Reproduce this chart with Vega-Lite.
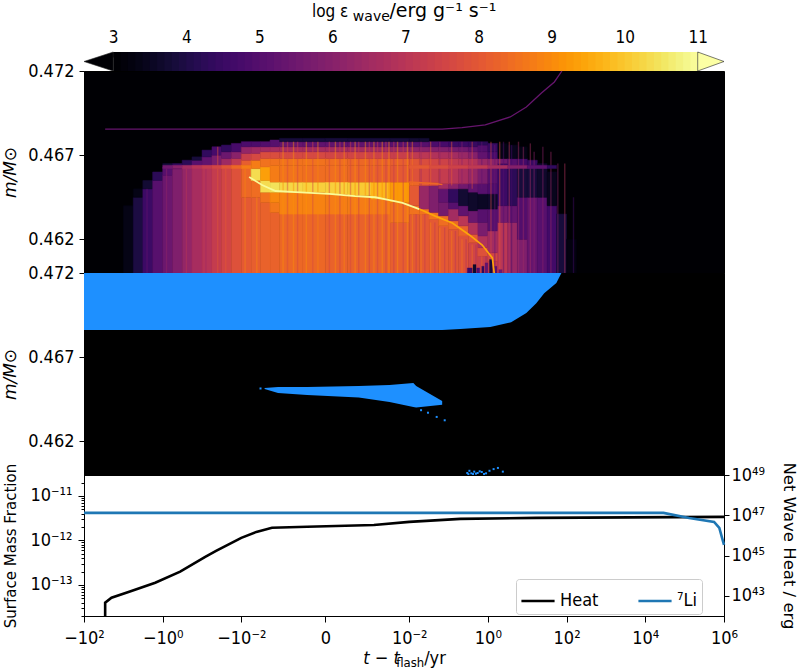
{"$schema":"https://vega.github.io/schema/vega-lite/v6.json","background":"white","padding":{"left":0,"top":2,"right":0,"bottom":0},"spacing":0,"bounds":"flush",
"config":{"view":{"stroke":"black","strokeWidth":1},"axis":{"labelFont":"DejaVu Sans Condensed","titleFont":"DejaVu Sans","labelFontSize":18,"titleFontSize":15,"titleFontWeight":"normal","grid":false,"tickColor":"black","domainColor":"black","labelColor":"black","titleColor":"black","labelOverlap":false,"labelFlush":false},"text":{"font":"DejaVu Sans Condensed","fontSize":18,"align":"left","baseline":"alphabetic"}},
"datasets":{
"cb":[{"v":3,"w":3.12},{"v":3.1,"w":3.22},{"v":3.2,"w":3.32},{"v":3.3,"w":3.42},{"v":3.4,"w":3.52},{"v":3.5,"w":3.62},{"v":3.6,"w":3.72},{"v":3.7,"w":3.82},{"v":3.8,"w":3.92},{"v":3.9,"w":4.02},{"v":4,"w":4.12},{"v":4.1,"w":4.22},{"v":4.2,"w":4.32},{"v":4.3,"w":4.42},{"v":4.4,"w":4.52},{"v":4.5,"w":4.62},{"v":4.6,"w":4.72},{"v":4.7,"w":4.82},{"v":4.8,"w":4.92},{"v":4.9,"w":5.02},{"v":5,"w":5.12},{"v":5.1,"w":5.22},{"v":5.2,"w":5.32},{"v":5.3,"w":5.42},{"v":5.4,"w":5.52},{"v":5.5,"w":5.62},{"v":5.6,"w":5.72},{"v":5.7,"w":5.82},{"v":5.8,"w":5.92},{"v":5.9,"w":6.02},{"v":6,"w":6.12},{"v":6.1,"w":6.22},{"v":6.2,"w":6.32},{"v":6.3,"w":6.42},{"v":6.4,"w":6.52},{"v":6.5,"w":6.62},{"v":6.6,"w":6.72},{"v":6.7,"w":6.82},{"v":6.8,"w":6.92},{"v":6.9,"w":7.02},{"v":7,"w":7.12},{"v":7.1,"w":7.22},{"v":7.2,"w":7.32},{"v":7.3,"w":7.42},{"v":7.4,"w":7.52},{"v":7.5,"w":7.62},{"v":7.6,"w":7.72},{"v":7.7,"w":7.82},{"v":7.8,"w":7.92},{"v":7.9,"w":8.02},{"v":8,"w":8.12},{"v":8.1,"w":8.22},{"v":8.2,"w":8.32},{"v":8.3,"w":8.42},{"v":8.4,"w":8.52},{"v":8.5,"w":8.62},{"v":8.6,"w":8.72},{"v":8.7,"w":8.82},{"v":8.8,"w":8.92},{"v":8.9,"w":9.02},{"v":9,"w":9.12},{"v":9.1,"w":9.22},{"v":9.2,"w":9.32},{"v":9.3,"w":9.42},{"v":9.4,"w":9.52},{"v":9.5,"w":9.62},{"v":9.6,"w":9.72},{"v":9.7,"w":9.82},{"v":9.8,"w":9.92},{"v":9.9,"w":10.02},{"v":10,"w":10.12},{"v":10.1,"w":10.22},{"v":10.2,"w":10.32},{"v":10.3,"w":10.42},{"v":10.4,"w":10.52},{"v":10.5,"w":10.62},{"v":10.6,"w":10.72},{"v":10.7,"w":10.82},{"v":10.8,"w":10.92},{"v":10.9,"w":11}],
"cells":[
{"a":-10,"b":-5.6,"m":0.46,"n":0.464,"e":3.3},
{"a":-5.6,"b":-3.2,"m":0.46,"n":0.4645,"e":3.9},{"a":-5.6,"b":-3.2,"m":0.4645,"n":0.465,"e":3.3},
{"a":-3.2,"b":-1.8,"m":0.46,"n":0.465,"e":4.5},{"a":-3.2,"b":-1.8,"m":0.465,"n":0.4655,"e":3.7},
{"a":-1.8,"b":-1,"m":0.46,"n":0.4655,"e":5},{"a":-1.8,"b":-1,"m":0.4655,"n":0.466,"e":4.2},
{"a":-1,"b":-0.56,"m":0.46,"n":0.4658,"e":5.4},{"a":-1,"b":-0.56,"m":0.4658,"n":0.4663,"e":5},{"a":-1,"b":-0.56,"m":0.4663,"n":0.4665,"e":3.8},
{"a":-0.56,"b":-0.32,"m":0.46,"n":0.4662,"e":5.8},{"a":-0.56,"b":-0.32,"m":0.4662,"n":0.4665,"e":4.3},
{"a":-0.32,"b":-0.18,"m":0.46,"n":0.4663,"e":6.2},{"a":-0.32,"b":-0.18,"m":0.4663,"n":0.4667,"e":4.2},
{"a":-0.18,"b":-0.1,"m":0.46,"n":0.4664,"e":6.6},{"a":-0.18,"b":-0.1,"m":0.4664,"n":0.4667,"e":5},{"a":-0.18,"b":-0.1,"m":0.4667,"n":0.4669,"e":3.8},
{"a":-0.1,"b":-0.056,"m":0.46,"n":0.4664,"e":6.9},{"a":-0.1,"b":-0.056,"m":0.4664,"n":0.4669,"e":5.2},{"a":-0.1,"b":-0.056,"m":0.4669,"n":0.4673,"e":4.3},
{"a":-0.056,"b":-0.032,"m":0.46,"n":0.4664,"e":7.2},{"a":-0.056,"b":-0.032,"m":0.4664,"n":0.467,"e":5.7},{"a":-0.056,"b":-0.032,"m":0.467,"n":0.4675,"e":4.7},
{"a":-0.032,"b":-0.018,"m":0.46,"n":0.4664,"e":7.5},{"a":-0.032,"b":-0.018,"m":0.4664,"n":0.4668,"e":6.4},{"a":-0.032,"b":-0.018,"m":0.4668,"n":0.4672,"e":5.4},{"a":-0.032,"b":-0.018,"m":0.4672,"n":0.4676,"e":4.3},
{"a":-0.018,"b":-0.01,"m":0.46,"n":0.4664,"e":7.8},{"a":-0.018,"b":-0.01,"m":0.4664,"n":0.4668,"e":7.1},{"a":-0.018,"b":-0.01,"m":0.4668,"n":0.4672,"e":6},{"a":-0.018,"b":-0.01,"m":0.4672,"n":0.4677,"e":4.7},
{"a":-0.01,"b":-0.0056,"m":0.46,"n":0.4645,"e":8},{"a":-0.01,"b":-0.0056,"m":0.4645,"n":0.4664,"e":8.3},{"a":-0.01,"b":-0.0056,"m":0.4664,"n":0.4667,"e":8.1},{"a":-0.01,"b":-0.0056,"m":0.4667,"n":0.4671,"e":7.3},{"a":-0.01,"b":-0.0056,"m":0.4671,"n":0.4675,"e":6.2},{"a":-0.01,"b":-0.0056,"m":0.4675,"n":0.4678,"e":4.8},
{"a":-0.0056,"b":-0.0032,"m":0.46,"n":0.4645,"e":8.1},{"a":-0.0056,"b":-0.0032,"m":0.4645,"n":0.4655,"e":8.4},{"a":-0.0056,"b":-0.0032,"m":0.4655,"n":0.4662,"e":10.3},{"a":-0.0056,"b":-0.0032,"m":0.4662,"n":0.4667,"e":8.7},{"a":-0.0056,"b":-0.0032,"m":0.4667,"n":0.4671,"e":7.6},{"a":-0.0056,"b":-0.0032,"m":0.4671,"n":0.4675,"e":6.4},{"a":-0.0056,"b":-0.0032,"m":0.4675,"n":0.4678,"e":4.8},
{"a":-0.0032,"b":-0.0018,"m":0.46,"n":0.4642,"e":8.2},{"a":-0.0032,"b":-0.0018,"m":0.4642,"n":0.4648,"e":8.5},{"a":-0.0032,"b":-0.0018,"m":0.4648,"n":0.4655,"e":10.3},{"a":-0.0032,"b":-0.0018,"m":0.4655,"n":0.4663,"e":9.3},{"a":-0.0032,"b":-0.0018,"m":0.4663,"n":0.4668,"e":8.5},{"a":-0.0032,"b":-0.0018,"m":0.4668,"n":0.4672,"e":7.7},{"a":-0.0032,"b":-0.0018,"m":0.4672,"n":0.4675,"e":6.5},{"a":-0.0032,"b":-0.0018,"m":0.4675,"n":0.4678,"e":4.9},
{"a":-0.0018,"b":-0.001,"m":0.46,"n":0.4636,"e":8.2},{"a":-0.0018,"b":-0.001,"m":0.4636,"n":0.4642,"e":8.6},{"a":-0.0018,"b":-0.001,"m":0.4642,"n":0.4648,"e":8.9},{"a":-0.0018,"b":-0.001,"m":0.4648,"n":0.4654,"e":10.4},{"a":-0.0018,"b":-0.001,"m":0.4654,"n":0.4664,"e":8.7},{"a":-0.0018,"b":-0.001,"m":0.4664,"n":0.4668,"e":8.5},{"a":-0.0018,"b":-0.001,"m":0.4668,"n":0.4672,"e":7.7},{"a":-0.0018,"b":-0.001,"m":0.4672,"n":0.4675,"e":6.6},{"a":-0.0018,"b":-0.001,"m":0.4675,"n":0.4679,"e":5},
{"a":-0.001,"b":-0.0002,"m":0.46,"n":0.4635,"e":8.3},{"a":-0.001,"b":-0.0002,"m":0.4635,"n":0.4648,"e":8.8},{"a":-0.001,"b":-0.0002,"m":0.4648,"n":0.4654,"e":10.2},{"a":-0.001,"b":-0.0002,"m":0.4654,"n":0.4664,"e":8.5},{"a":-0.001,"b":-0.0002,"m":0.4664,"n":0.4668,"e":8.5},{"a":-0.001,"b":-0.0002,"m":0.4668,"n":0.4672,"e":7.6},{"a":-0.001,"b":-0.0002,"m":0.4672,"n":0.4675,"e":6.6},{"a":-0.001,"b":-0.0002,"m":0.4675,"n":0.4678,"e":5.3},{"a":-0.001,"b":-0.0002,"m":0.4678,"n":0.468,"e":3.8},
{"a":-0.0002,"b":0,"m":0.46,"n":0.4635,"e":8.3},{"a":-0.0002,"b":0,"m":0.4635,"n":0.4648,"e":8.8},{"a":-0.0002,"b":0,"m":0.4648,"n":0.4654,"e":10.1},{"a":-0.0002,"b":0,"m":0.4654,"n":0.4664,"e":8.4},{"a":-0.0002,"b":0,"m":0.4664,"n":0.4668,"e":8.5},{"a":-0.0002,"b":0,"m":0.4668,"n":0.4672,"e":7.6},{"a":-0.0002,"b":0,"m":0.4672,"n":0.4675,"e":6.5},{"a":-0.0002,"b":0,"m":0.4675,"n":0.4678,"e":5.2},{"a":-0.0002,"b":0,"m":0.4678,"n":0.468,"e":3.8},
{"a":0,"b":0.0002,"m":0.46,"n":0.4635,"e":8.2},{"a":0,"b":0.0002,"m":0.4635,"n":0.4647,"e":8.7},{"a":0,"b":0.0002,"m":0.4647,"n":0.4654,"e":10.1},{"a":0,"b":0.0002,"m":0.4654,"n":0.4664,"e":8.4},{"a":0,"b":0.0002,"m":0.4664,"n":0.4668,"e":8.4},{"a":0,"b":0.0002,"m":0.4668,"n":0.4672,"e":7.5},{"a":0,"b":0.0002,"m":0.4672,"n":0.4675,"e":6.5},{"a":0,"b":0.0002,"m":0.4675,"n":0.4678,"e":5.2},{"a":0,"b":0.0002,"m":0.4678,"n":0.468,"e":3.8},
{"a":0.0002,"b":0.001,"m":0.46,"n":0.4635,"e":8.2},{"a":0.0002,"b":0.001,"m":0.4635,"n":0.4646,"e":8.7},{"a":0.0002,"b":0.001,"m":0.4646,"n":0.4654,"e":10},{"a":0.0002,"b":0.001,"m":0.4654,"n":0.4664,"e":8.3},{"a":0.0002,"b":0.001,"m":0.4664,"n":0.4668,"e":8.3},{"a":0.0002,"b":0.001,"m":0.4668,"n":0.4672,"e":7.5},{"a":0.0002,"b":0.001,"m":0.4672,"n":0.4675,"e":6.5},{"a":0.0002,"b":0.001,"m":0.4675,"n":0.4678,"e":5.2},{"a":0.0002,"b":0.001,"m":0.4678,"n":0.468,"e":3.8},
{"a":0.001,"b":0.0032,"m":0.46,"n":0.4635,"e":8.2},{"a":0.001,"b":0.0032,"m":0.4635,"n":0.4644,"e":8.6},{"a":0.001,"b":0.0032,"m":0.4644,"n":0.4654,"e":9.7},{"a":0.001,"b":0.0032,"m":0.4654,"n":0.4664,"e":8.1},{"a":0.001,"b":0.0032,"m":0.4664,"n":0.4668,"e":8.2},{"a":0.001,"b":0.0032,"m":0.4668,"n":0.4672,"e":7.4},{"a":0.001,"b":0.0032,"m":0.4672,"n":0.4675,"e":6.4},{"a":0.001,"b":0.0032,"m":0.4675,"n":0.4678,"e":5.2},{"a":0.001,"b":0.0032,"m":0.4678,"n":0.468,"e":3.8},
{"a":0.0032,"b":0.01,"m":0.46,"n":0.463,"e":8.1},{"a":0.0032,"b":0.01,"m":0.463,"n":0.4642,"e":8.5},{"a":0.0032,"b":0.01,"m":0.4642,"n":0.4654,"e":9.2},{"a":0.0032,"b":0.01,"m":0.4654,"n":0.4664,"e":8},{"a":0.0032,"b":0.01,"m":0.4664,"n":0.4668,"e":8.1},{"a":0.0032,"b":0.01,"m":0.4668,"n":0.4672,"e":7.3},{"a":0.0032,"b":0.01,"m":0.4672,"n":0.4675,"e":6.3},{"a":0.0032,"b":0.01,"m":0.4675,"n":0.4678,"e":5.1},{"a":0.0032,"b":0.01,"m":0.4678,"n":0.468,"e":3.8},
{"a":0.01,"b":0.018,"m":0.46,"n":0.4635,"e":8},{"a":0.01,"b":0.018,"m":0.4635,"n":0.464,"e":8.5},{"a":0.01,"b":0.018,"m":0.464,"n":0.4652,"e":8},{"a":0.01,"b":0.018,"m":0.4652,"n":0.4654,"e":8.3},{"a":0.01,"b":0.018,"m":0.4654,"n":0.4664,"e":7.8},{"a":0.01,"b":0.018,"m":0.4664,"n":0.4668,"e":7.9},{"a":0.01,"b":0.018,"m":0.4668,"n":0.4672,"e":7.1},{"a":0.01,"b":0.018,"m":0.4672,"n":0.4675,"e":6.1},{"a":0.01,"b":0.018,"m":0.4675,"n":0.4678,"e":5},{"a":0.01,"b":0.018,"m":0.4678,"n":0.468,"e":3.7},
{"a":0.018,"b":0.032,"m":0.46,"n":0.4635,"e":8},{"a":0.018,"b":0.032,"m":0.4635,"n":0.4638,"e":8.5},{"a":0.018,"b":0.032,"m":0.4638,"n":0.4652,"e":6.3},{"a":0.018,"b":0.032,"m":0.4652,"n":0.4654,"e":8},{"a":0.018,"b":0.032,"m":0.4654,"n":0.4664,"e":7.6},{"a":0.018,"b":0.032,"m":0.4664,"n":0.4668,"e":7.7},{"a":0.018,"b":0.032,"m":0.4668,"n":0.4672,"e":7},{"a":0.018,"b":0.032,"m":0.4672,"n":0.4675,"e":6},{"a":0.018,"b":0.032,"m":0.4675,"n":0.4678,"e":5},{"a":0.018,"b":0.032,"m":0.4678,"n":0.468,"e":3.7},
{"a":0.032,"b":0.056,"m":0.46,"n":0.4632,"e":8},{"a":0.032,"b":0.056,"m":0.4632,"n":0.4636,"e":8.5},{"a":0.032,"b":0.056,"m":0.4636,"n":0.4652,"e":5.8},{"a":0.032,"b":0.056,"m":0.4652,"n":0.4654,"e":7.8},{"a":0.032,"b":0.056,"m":0.4654,"n":0.4664,"e":7.3},{"a":0.032,"b":0.056,"m":0.4664,"n":0.4668,"e":7.5},{"a":0.032,"b":0.056,"m":0.4668,"n":0.4672,"e":6.8},{"a":0.032,"b":0.056,"m":0.4672,"n":0.4675,"e":5.9},{"a":0.032,"b":0.056,"m":0.4675,"n":0.4678,"e":4.8},
{"a":0.056,"b":0.1,"m":0.46,"n":0.4628,"e":8},{"a":0.056,"b":0.1,"m":0.4628,"n":0.4634,"e":8.4},{"a":0.056,"b":0.1,"m":0.4634,"n":0.4642,"e":5.6},{"a":0.056,"b":0.1,"m":0.4642,"n":0.465,"e":5.2},{"a":0.056,"b":0.1,"m":0.465,"n":0.4653,"e":6.5},{"a":0.056,"b":0.1,"m":0.4653,"n":0.4664,"e":7.2},{"a":0.056,"b":0.1,"m":0.4664,"n":0.4668,"e":7.4},{"a":0.056,"b":0.1,"m":0.4668,"n":0.4672,"e":6.7},{"a":0.056,"b":0.1,"m":0.4672,"n":0.4675,"e":5.8},{"a":0.056,"b":0.1,"m":0.4675,"n":0.4678,"e":4.7},
{"a":0.1,"b":0.18,"m":0.46,"n":0.4626,"e":7.9},{"a":0.1,"b":0.18,"m":0.4626,"n":0.4631,"e":8.3},{"a":0.1,"b":0.18,"m":0.4631,"n":0.4638,"e":6.5},{"a":0.1,"b":0.18,"m":0.4638,"n":0.4642,"e":5},{"a":0.1,"b":0.18,"m":0.4642,"n":0.465,"e":4.3},{"a":0.1,"b":0.18,"m":0.465,"n":0.4653,"e":6},{"a":0.1,"b":0.18,"m":0.4653,"n":0.4664,"e":6.9},{"a":0.1,"b":0.18,"m":0.4664,"n":0.4668,"e":7.1},{"a":0.1,"b":0.18,"m":0.4668,"n":0.4672,"e":6.5},{"a":0.1,"b":0.18,"m":0.4672,"n":0.4675,"e":5.6},{"a":0.1,"b":0.18,"m":0.4675,"n":0.4678,"e":4.5},
{"a":0.18,"b":0.32,"m":0.46,"n":0.4622,"e":7.8},{"a":0.18,"b":0.32,"m":0.4622,"n":0.4628,"e":8.2},{"a":0.18,"b":0.32,"m":0.4628,"n":0.4634,"e":7},{"a":0.18,"b":0.32,"m":0.4634,"n":0.464,"e":5.2},{"a":0.18,"b":0.32,"m":0.464,"n":0.465,"e":3.7},{"a":0.18,"b":0.32,"m":0.465,"n":0.4653,"e":5.5},{"a":0.18,"b":0.32,"m":0.4653,"n":0.4664,"e":6.6},{"a":0.18,"b":0.32,"m":0.4664,"n":0.4668,"e":7},{"a":0.18,"b":0.32,"m":0.4668,"n":0.4672,"e":6.3},{"a":0.18,"b":0.32,"m":0.4672,"n":0.4675,"e":5.5},{"a":0.18,"b":0.32,"m":0.4675,"n":0.4678,"e":4.5},
{"a":0.32,"b":0.56,"m":0.46,"n":0.4618,"e":7.5},{"a":0.32,"b":0.56,"m":0.4618,"n":0.4623,"e":8},{"a":0.32,"b":0.56,"m":0.4623,"n":0.463,"e":6.8},{"a":0.32,"b":0.56,"m":0.463,"n":0.4637,"e":5.4},{"a":0.32,"b":0.56,"m":0.4637,"n":0.4648,"e":3.6},{"a":0.32,"b":0.56,"m":0.4648,"n":0.4653,"e":5.2},{"a":0.32,"b":0.56,"m":0.4653,"n":0.4664,"e":6.2},{"a":0.32,"b":0.56,"m":0.4664,"n":0.4668,"e":6.8},{"a":0.32,"b":0.56,"m":0.4668,"n":0.4672,"e":5.9},{"a":0.32,"b":0.56,"m":0.4672,"n":0.4675,"e":5.2},{"a":0.32,"b":0.56,"m":0.4675,"n":0.4678,"e":4.4},
{"a":0.56,"b":1,"m":0.46,"n":0.461,"e":7.3},{"a":0.56,"b":1,"m":0.461,"n":0.4615,"e":7.8},{"a":0.56,"b":1,"m":0.4615,"n":0.4622,"e":6.8},{"a":0.56,"b":1,"m":0.4622,"n":0.463,"e":5.7},{"a":0.56,"b":1,"m":0.463,"n":0.4638,"e":5},{"a":0.56,"b":1,"m":0.4638,"n":0.4647,"e":3.5},{"a":0.56,"b":1,"m":0.4647,"n":0.4653,"e":5},{"a":0.56,"b":1,"m":0.4653,"n":0.4664,"e":5.7},{"a":0.56,"b":1,"m":0.4664,"n":0.4668,"e":6.3},{"a":0.56,"b":1,"m":0.4668,"n":0.4672,"e":5.2},{"a":0.56,"b":1,"m":0.4672,"n":0.4676,"e":4.9},{"a":0.56,"b":1,"m":0.4676,"n":0.4678,"e":4.2},
{"a":1,"b":1.8,"m":0.46,"n":0.4607,"e":7.2},{"a":1,"b":1.8,"m":0.4607,"n":0.4612,"e":7.5},{"a":1,"b":1.8,"m":0.4612,"n":0.4625,"e":6.5},{"a":1,"b":1.8,"m":0.4625,"n":0.4638,"e":5},{"a":1,"b":1.8,"m":0.4638,"n":0.4647,"e":3.6},{"a":1,"b":1.8,"m":0.4647,"n":0.4653,"e":4.8},{"a":1,"b":1.8,"m":0.4653,"n":0.4664,"e":5},{"a":1,"b":1.8,"m":0.4664,"n":0.4668,"e":6},{"a":1,"b":1.8,"m":0.4668,"n":0.4672,"e":4.7},{"a":1,"b":1.8,"m":0.4672,"n":0.4677,"e":4.4},
{"a":1.8,"b":3.2,"m":0.46,"n":0.463,"e":7},{"a":1.8,"b":3.2,"m":0.463,"n":0.464,"e":5.6},{"a":1.8,"b":3.2,"m":0.464,"n":0.4665,"e":4.5},{"a":1.8,"b":3.2,"m":0.4665,"n":0.4668,"e":5.5},{"a":1.8,"b":3.2,"m":0.4668,"n":0.4677,"e":3.3},
{"a":3.2,"b":5.6,"m":0.46,"n":0.463,"e":6.3},{"a":3.2,"b":5.6,"m":0.463,"n":0.464,"e":5.3},{"a":3.2,"b":5.6,"m":0.464,"n":0.4664,"e":4.2},{"a":3.2,"b":5.6,"m":0.4664,"n":0.4668,"e":5},{"a":3.2,"b":5.6,"m":0.4668,"n":0.4676,"e":3.4},
{"a":5.6,"b":10,"m":0.46,"n":0.462,"e":5.8},{"a":5.6,"b":10,"m":0.462,"n":0.4645,"e":4.9},{"a":5.6,"b":10,"m":0.4645,"n":0.4664,"e":3.8},{"a":5.6,"b":10,"m":0.4664,"n":0.4668,"e":4.6},{"a":5.6,"b":10,"m":0.4668,"n":0.4675,"e":3.3},
{"a":10,"b":18,"m":0.46,"n":0.4645,"e":5.3},{"a":10,"b":18,"m":0.4645,"n":0.4664,"e":3.8},{"a":10,"b":18,"m":0.4664,"n":0.4667,"e":4.4},
{"a":18,"b":32,"m":0.46,"n":0.4645,"e":5},{"a":18,"b":32,"m":0.4645,"n":0.4665,"e":3.6},
{"a":32,"b":56,"m":0.46,"n":0.464,"e":4.6},{"a":32,"b":56,"m":0.464,"n":0.466,"e":3.4},
{"a":56,"b":100,"m":0.46,"n":0.4635,"e":3.8},
{"a":100,"b":180,"m":0.46,"n":0.462,"e":3.2}],
"thin":[
{"a":-1,"b":-0.56,"m":0.4662,"n":0.4664,"e":5.5},{"a":-0.56,"b":-0.32,"m":0.4662,"n":0.4664,"e":6},{"a":-0.32,"b":-0.18,"m":0.4662,"n":0.4664,"e":6.5},{"a":-0.18,"b":-0.1,"m":0.4662,"n":0.4664,"e":6.9},{"a":-0.1,"b":-0.056,"m":0.4662,"n":0.4664,"e":7.2},{"a":-0.056,"b":-0.032,"m":0.4662,"n":0.4664,"e":7.5},{"a":-0.032,"b":-0.018,"m":0.4662,"n":0.4664,"e":7.9},{"a":-0.018,"b":-0.01,"m":0.4662,"n":0.4664,"e":8.3},{"a":-0.01,"b":-0.0056,"m":0.4662,"n":0.4664,"e":8.7},
{"a":0.01,"b":0.032,"m":0.4662,"n":0.4664,"e":8},{"a":0.032,"b":0.1,"m":0.4662,"n":0.4664,"e":7.7},{"a":0.1,"b":0.32,"m":0.4662,"n":0.4664,"e":7.4},{"a":0.32,"b":1,"m":0.4662,"n":0.4664,"e":7.1},{"a":1,"b":3.2,"m":0.4662,"n":0.4664,"e":6.6},{"a":3.2,"b":10,"m":0.4662,"n":0.4664,"e":5.9},{"a":10,"b":32,"m":0.4662,"n":0.4664,"e":5.1},{"a":32,"b":56,"m":0.4662,"n":0.4664,"e":4.3},
{"a":0.3,"b":0.4,"m":0.46,"n":0.4603,"e":4.5},{"a":0.42,"b":0.5,"m":0.46,"n":0.4605,"e":3.6},{"a":0.52,"b":0.62,"m":0.46,"n":0.4603,"e":4.8},{"a":0.7,"b":0.8,"m":0.46,"n":0.4604,"e":4.3},{"a":0.85,"b":1,"m":0.46,"n":0.4606,"e":5.2},{"a":1.1,"b":1.3,"m":0.46,"n":0.4608,"e":3.8},{"a":1.4,"b":1.7,"m":0.46,"n":0.4604,"e":5},{"a":1.9,"b":2.3,"m":0.46,"n":0.4602,"e":5.5}],
"stripes":[
{"t":-2.5,"m":0.46,"n":0.465,"e":5.3},{"t":-0.8,"m":0.46,"n":0.4662,"e":6.2},{"t":-0.25,"m":0.46,"n":0.4662,"e":7},{"t":-0.08,"m":0.46,"n":0.4662,"e":6.4},{"t":-0.04,"m":0.46,"n":0.4675,"e":7.9},{"t":-0.025,"m":0.46,"n":0.4662,"e":8},{"t":-0.008,"m":0.46,"n":0.4662,"e":8.8},{"t":-0.004,"m":0.46,"n":0.4645,"e":8.9},
{"t":-0.0008,"m":0.46,"n":0.4678,"e":9},{"t":-0.0006,"m":0.46,"n":0.4678,"e":7.6},{"t":-0.0004,"m":0.46,"n":0.4678,"e":9},{"t":-0.0003,"m":0.46,"n":0.4678,"e":7.5},{"t":-0.00015,"m":0.46,"n":0.4678,"e":9.1},{"t":-0.00008,"m":0.46,"n":0.4678,"e":7.6},{"t":-0.00004,"m":0.46,"n":0.4678,"e":8.9},{"t":0.00002,"m":0.46,"n":0.4678,"e":7.5},{"t":0.00006,"m":0.46,"n":0.4678,"e":9},{"t":0.0001,"m":0.46,"n":0.4678,"e":7.4},{"t":0.00015,"m":0.46,"n":0.4678,"e":8.9},{"t":0.00025,"m":0.46,"n":0.4678,"e":7.5},{"t":0.00035,"m":0.46,"n":0.4678,"e":9},{"t":0.00045,"m":0.46,"n":0.4678,"e":7.4},{"t":0.0007,"m":0.46,"n":0.4678,"e":9},{"t":0.0009,"m":0.46,"n":0.4678,"e":7.3},{"t":0.0012,"m":0.46,"n":0.4678,"e":8.9},{"t":0.0015,"m":0.46,"n":0.4678,"e":7.4},{"t":0.002,"m":0.46,"n":0.4678,"e":9},{"t":0.0025,"m":0.46,"n":0.4678,"e":7.3},{"t":0.003,"m":0.46,"n":0.4678,"e":9},{"t":0.004,"m":0.46,"n":0.4678,"e":7.2},{"t":0.005,"m":0.46,"n":0.4678,"e":9.1},{"t":0.007,"m":0.46,"n":0.4678,"e":7.3},{"t":0.009,"m":0.46,"n":0.4678,"e":9.1},
{"t":0.012,"m":0.46,"n":0.4635,"e":8.8},{"t":0.012,"m":0.4652,"n":0.4678,"e":8.6},{"t":0.015,"m":0.46,"n":0.4635,"e":7.2},{"t":0.02,"m":0.46,"n":0.4635,"e":8.8},{"t":0.02,"m":0.4652,"n":0.4678,"e":6.4},{"t":0.025,"m":0.46,"n":0.4635,"e":7.2},{"t":0.035,"m":0.46,"n":0.463,"e":8.8},{"t":0.035,"m":0.4652,"n":0.4678,"e":8.2},{"t":0.045,"m":0.46,"n":0.463,"e":7.1},{"t":0.06,"m":0.46,"n":0.4627,"e":8.8},{"t":0.06,"m":0.4652,"n":0.4678,"e":6.2},{"t":0.08,"m":0.46,"n":0.4627,"e":7},{"t":0.12,"m":0.46,"n":0.4625,"e":8.7},{"t":0.12,"m":0.4652,"n":0.4678,"e":8},{"t":0.15,"m":0.46,"n":0.4625,"e":6.9},{"t":0.22,"m":0.46,"n":0.462,"e":8.6},{"t":0.22,"m":0.4652,"n":0.4678,"e":6},{"t":0.28,"m":0.46,"n":0.462,"e":6.8},{"t":0.4,"m":0.46,"n":0.4617,"e":8.5},{"t":0.4,"m":0.465,"n":0.4678,"e":7.6},{"t":0.5,"m":0.46,"n":0.4617,"e":6.5},{"t":0.7,"m":0.46,"n":0.461,"e":8.2},{"t":0.7,"m":0.465,"n":0.4678,"e":5.2},{"t":0.9,"m":0.46,"n":0.461,"e":6.2},{"t":1.2,"m":0.46,"n":0.4678,"e":7.6},{"t":1.5,"m":0.46,"n":0.4676,"e":5.4},{"t":2,"m":0.46,"n":0.4678,"e":7.8},{"t":2.5,"m":0.46,"n":0.4678,"e":5},{"t":3.5,"m":0.46,"n":0.4678,"e":7},{"t":4,"m":0.46,"n":0.4676,"e":4.6},{"t":6,"m":0.46,"n":0.4678,"e":6.5},{"t":8,"m":0.46,"n":0.4675,"e":6.4},{"t":12,"m":0.46,"n":0.4677,"e":6.5},{"t":15,"m":0.46,"n":0.4672,"e":6},{"t":25,"m":0.46,"n":0.4675,"e":6},{"t":40,"m":0.46,"n":0.4672,"e":6.3},{"t":60,"m":0.46,"n":0.4665,"e":6},{"t":90,"m":0.46,"n":0.4665,"e":6.8},{"t":150,"m":0.46,"n":0.4645,"e":4.6}],
"lines":[
{"k":"top","t":-29,"m":0.46855,"e":5.3},{"k":"top","t":-1,"m":0.46855,"e":5.3},{"k":"top","t":0,"m":0.46855,"e":5.3},{"k":"top","t":0.069,"m":0.46855,"e":5.3},{"k":"top","t":0.22,"m":0.46864,"e":5.3},{"k":"top","t":0.86,"m":0.4688,"e":5.3},{"k":"top","t":3.7,"m":0.46927,"e":5.3},{"k":"top","t":9.5,"m":0.46986,"e":5.3},{"k":"top","t":23,"m":0.47069,"e":5.3},{"k":"top","t":49,"m":0.47135,"e":5.3},{"k":"top","t":76,"m":0.472,"e":5.3},
{"k":"r1","t":-0.0063,"m":0.4657,"e":10.7},{"k":"r1","t":-0.0029,"m":0.46523,"e":10.7},{"k":"r1","t":-0.00128,"m":0.46487,"e":10.7},{"k":"r1","t":-0.00035,"m":0.4648,"e":10.7},{"k":"r1","t":0.000019,"m":0.4647,"e":10.7},{"k":"r1","t":0.00035,"m":0.46457,"e":10.7},{"k":"r1","t":0.0013,"m":0.4645,"e":10.7},{"k":"r1","t":0.0031,"m":0.46433,"e":10.7},{"k":"r1","t":0.0067,"m":0.46416,"e":10.7},{"k":"r1","t":0.018,"m":0.4638,"e":10.7},
{"k":"r2","t":0.018,"m":0.4638,"e":10},{"k":"r2","t":0.046,"m":0.46338,"e":9.6},{"k":"r2","t":0.125,"m":0.46297,"e":9.2},{"k":"r2","t":0.34,"m":0.46226,"e":8.5},{"k":"r2","t":0.72,"m":0.46166,"e":8.2},{"k":"r2","t":1.3,"m":0.4609,"e":7.7},{"k":"r2","t":1.45,"m":0.46,"e":7.7},
{"k":"r3","t":0.01,"m":0.4654,"e":8.6},{"k":"r3","t":0.05,"m":0.4653,"e":8.1},{"k":"r3","t":0.07,"m":0.46525,"e":7.4}],
"blueTop":[{"t":-100,"m":0.46861,"n":0.472},{"t":-1,"m":0.46861,"n":0.472},{"t":0,"m":0.46861,"n":0.472},{"t":0.069,"m":0.46861,"n":0.472},{"t":0.2,"m":0.46867,"n":0.472},{"t":1.15,"m":0.46879,"n":0.472},{"t":3.9,"m":0.46908,"n":0.472},{"t":9.5,"m":0.46962,"n":0.472},{"t":17,"m":0.47021,"n":0.472},{"t":27,"m":0.4708,"n":0.472},{"t":55,"m":0.4714,"n":0.472},{"t":74,"m":0.472,"n":0.472}],
"blueMid":[{"t":-0.0025,"m":0.46511,"n":0.46517},{"t":-0.0011,"m":0.46487,"n":0.46523},{"t":-0.00014,"m":0.46475,"n":0.46523},{"t":0.00045,"m":0.4646,"n":0.46529},{"t":0.0031,"m":0.46433,"n":0.46535},{"t":0.0127,"m":0.46404,"n":0.46547},{"t":0.015,"m":0.46401,"n":0.46529},{"t":0.069,"m":0.46418,"n":0.46439}],
"specks":[{"t":0.3,"m":0.46012},{"t":0.32,"m":0.46005},{"t":0.34,"m":0.46025},{"t":0.38,"m":0.4601},{"t":0.42,"m":0.46006},{"t":0.45,"m":0.4602},{"t":0.5,"m":0.46008},{"t":0.55,"m":0.46012},{"t":0.62,"m":0.46022},{"t":0.7,"m":0.46018},{"t":0.8,"m":0.46006},{"t":0.9,"m":0.4601},{"t":1.1,"m":0.46025},{"t":1.4,"m":0.46035},{"t":1.8,"m":0.46042},{"t":2.4,"m":0.4602},{"t":0.02,"m":0.46385},{"t":0.03,"m":0.4637},{"t":0.05,"m":0.46345},{"t":0.08,"m":0.46325},{"t":-0.0032,"m":0.46514}],
"curves":[{"s":"Heat","t":-29,"h":1e42},{"s":"Heat","t":-29,"h":4.6e42},{"s":"Heat","t":-20,"h":8.1e42},{"s":"Heat","t":-7.1,"h":1.6e43},{"s":"Heat","t":-1.55,"h":4.5e43},{"s":"Heat","t":-0.36,"h":1.6e44},{"s":"Heat","t":-0.083,"h":8.7e44},{"s":"Heat","t":-0.044,"h":1.7e45},{"s":"Heat","t":-0.01,"h":7.6e45},{"s":"Heat","t":-0.0041,"h":1.5e46},{"s":"Heat","t":-0.0016,"h":2.4e46},{"s":"Heat","t":-0.00014,"h":2.7e46},{"s":"Heat","t":0.0012,"h":3.3e46},{"s":"Heat","t":0.01,"h":4.7e46},{"s":"Heat","t":0.2,"h":6.6e46},{"s":"Heat","t":17,"h":7.4e46},{"s":"Heat","t":1000000,"h":8.3e46}],
"li":[{"s":"⁷Li","t":-100,"f":4.15e-12},{"s":"⁷Li","t":29000,"f":4.15e-12},{"s":"⁷Li","t":130000,"f":3.2e-12},{"s":"⁷Li","t":560000,"f":2.6e-12},{"s":"⁷Li","t":760000,"f":1.9e-12},{"s":"⁷Li","t":1000000,"f":7.9e-13}]
},
"vconcat":[
{"width":640,"height":19,"view":{"stroke":null},"layer":[
{"data":{"name":"cb"},"mark":{"type":"rect"},"encoding":{"x":{"field":"v","type":"quantitative","scale":{"domain":[2.6,11.36],"nice":false},"axis":{"orient":"top","values":[3,4,5,6,7,8,9,10,11],"format":"d","domain":false,"tickSize":-5,"labelFontSize":17,"labelPadding":11,"title":null}},"x2":{"field":"w"},"fill":{"field":"v","type":"quantitative","scale":{"domain":[3,11],"scheme":"inferno","clamp":true},"legend":null}}},
{"data":{"values":[{"v":2.6,"lo":0.5,"hi":0.5,"k":"l"},{"v":3,"lo":0,"hi":1,"k":"l"}]},"mark":{"type":"area","color":"#000004","stroke":"#222","strokeWidth":0.6},"encoding":{"x":{"field":"v","type":"quantitative"},"y":{"field":"lo","type":"quantitative","scale":{"domain":[0,1]},"axis":null},"y2":{"field":"hi"}}},
{"data":{"values":[{"v":11,"lo":0,"hi":1,"k":"r"},{"v":11.36,"lo":0.5,"hi":0.5,"k":"r"}]},"mark":{"type":"area","color":"#fcffa4","stroke":"#222","strokeWidth":0.6},"encoding":{"x":{"field":"v","type":"quantitative"},"y":{"field":"lo","type":"quantitative","scale":{"domain":[0,1]},"axis":null},"y2":{"field":"hi"}}},
{"data":{"values":[{"v":5.72,"s":"log ε"}]},"mark":{"type":"text","fontSize":17},"encoding":{"x":{"field":"v","type":"quantitative"},"y":{"value":-35},"text":{"field":"s"}}},
{"data":{"values":[{"v":6.28,"s":"wave"}]},"mark":{"type":"text","font":"DejaVu Sans","fontSize":14},"encoding":{"x":{"field":"v","type":"quantitative"},"y":{"value":-31},"text":{"field":"s"}}},
{"data":{"values":[{"v":6.78,"s":"/erg g⁻¹ s⁻¹"}]},"mark":{"type":"text","font":"DejaVu Sans","fontSize":19},"encoding":{"x":{"field":"v","type":"quantitative"},"y":{"value":-35},"text":{"field":"s"}}}
]},
{"width":640,"height":202,"view":{"fill":"#000004","stroke":"black"},"layer":[
{"data":{"name":"cells"},"mark":{"type":"rect","strokeWidth":0.5},"encoding":{"x":{"field":"a","type":"quantitative","scale":{"type":"symlog","constant":7.4e-5,"domain":[-100,1000000],"nice":false},"axis":null},"x2":{"field":"b"},"y":{"field":"m","type":"quantitative","scale":{"domain":[0.46,0.472],"nice":false,"zero":false},"axis":{"values":[0.472,0.467,0.462],"format":".3f","title":"m/M⊙","titleFontStyle":"italic","titleFontSize":17,"titleX":-65,"tickSize":5,"labelPadding":5}},"y2":{"field":"n"},"fill":{"field":"e","type":"quantitative","scale":{"domain":[3,11],"scheme":"inferno","clamp":true},"legend":null},"stroke":{"field":"e","type":"quantitative","scale":{"domain":[3,11],"scheme":"inferno","clamp":true},"legend":null}}},
{"data":{"name":"stripes"},"mark":{"type":"rule","opacity":0.45,"strokeWidth":1.4},"encoding":{"x":{"field":"t","type":"quantitative"},"y":{"field":"m","type":"quantitative"},"y2":{"field":"n"},"stroke":{"field":"e","type":"quantitative","legend":null}}},
{"data":{"name":"thin"},"mark":{"type":"rect","strokeWidth":0.3},"encoding":{"x":{"field":"a","type":"quantitative"},"x2":{"field":"b"},"y":{"field":"m","type":"quantitative"},"y2":{"field":"n"},"fill":{"field":"e","type":"quantitative","legend":null},"stroke":{"field":"e","type":"quantitative","legend":null}}},
{"data":{"name":"lines"},"transform":[{"filter":"datum.k=='top'"}],"mark":{"type":"line","strokeWidth":1.3},"encoding":{"x":{"field":"t","type":"quantitative"},"y":{"field":"m","type":"quantitative"},"stroke":{"datum":5.3,"type":"quantitative","legend":null}}},
{"data":{"name":"lines"},"transform":[{"filter":"datum.k=='r1'"}],"mark":{"type":"line","strokeWidth":1.8},"encoding":{"x":{"field":"t","type":"quantitative"},"y":{"field":"m","type":"quantitative"},"stroke":{"datum":10.9,"type":"quantitative","legend":null}}},
{"data":{"name":"lines"},"transform":[{"filter":"datum.k=='r2'"}],"mark":{"type":"line","strokeWidth":1.7},"encoding":{"x":{"field":"t","type":"quantitative"},"y":{"field":"m","type":"quantitative"},"stroke":{"datum":9.4,"type":"quantitative","legend":null}}},
{"data":{"name":"lines"},"transform":[{"filter":"datum.k=='r3'"}],"mark":{"type":"line","strokeWidth":1.5},"encoding":{"x":{"field":"t","type":"quantitative"},"y":{"field":"m","type":"quantitative"},"stroke":{"datum":8.3,"type":"quantitative","legend":null}}}
]},
{"width":640,"height":202,"view":{"fill":"black","stroke":"black"},"layer":[
{"data":{"name":"blueTop"},"mark":{"type":"area","color":"#1e90ff"},"encoding":{"x":{"field":"t","type":"quantitative","scale":{"type":"symlog","constant":7.4e-5,"domain":[-100,1000000],"nice":false},"axis":null},"y":{"field":"m","type":"quantitative","scale":{"domain":[0.46,0.472],"nice":false,"zero":false},"axis":{"values":[0.472,0.467,0.462],"format":".3f","title":"m/M⊙","titleFontStyle":"italic","titleFontSize":17,"titleX":-65,"tickSize":5,"labelPadding":5}},"y2":{"field":"n"}}},
{"data":{"name":"blueMid"},"mark":{"type":"area","color":"#1e90ff"},"encoding":{"x":{"field":"t","type":"quantitative"},"y":{"field":"m","type":"quantitative"},"y2":{"field":"n"}}},
{"data":{"name":"specks"},"mark":{"type":"square","color":"#1e90ff","size":4,"opacity":1},"encoding":{"x":{"field":"t","type":"quantitative"},"y":{"field":"m","type":"quantitative"}}}
]},
{"width":640,"height":141,"resolve":{"scale":{"y":"independent"}},"layer":[
{"data":{"name":"curves"},"mark":{"type":"line","strokeWidth":2.6},"encoding":{"x":{"field":"t","type":"quantitative","scale":{"type":"symlog","constant":7.4e-5,"domain":[-100,1000000],"nice":false},"axis":{"values":[-100,-1,-0.01,0,0.01,1,100,10000,1000000,-10,-0.1,-0.001,0.001,0.1,10,1000,100000],"labelExpr":"{'-100':'−10²','-1':'−10⁰','-0.01':'−10⁻²','0':'0','0.01':'10⁻²','1':'10⁰','100':'10²','10000':'10⁴','1000000':'10⁶'}[''+datum.value]||''","tickSize":{"condition":{"test":"indexof([-10,-0.1,-0.001,0.001,0.1,10,1000,100000],datum.value)>=0","value":3},"value":6},"labelPadding":7,"title":null}},"y":{"field":"h","type":"quantitative","scale":{"type":"log","domain":[1e42,1e49]},"axis":{"orient":"right","values":[1e43,1e45,1e47,1e49],"labelExpr":"datum.value==1e43?'10⁴³':datum.value==1e45?'10⁴⁵':datum.value==1e47?'10⁴⁷':'10⁴⁹'","title":"Net Wave Heat / erg","titleFontSize":16.5,"tickSize":5,"titlePadding":16}},"color":{"field":"s","type":"nominal","scale":{"domain":["Heat","⁷Li"],"range":["black","#1f77b4"]},"legend":{"orient":"none","legendX":432,"legendY":527,"direction":"horizontal","columns":2,"title":null,"titlePadding":0,"fillColor":"white","strokeColor":"#ccc","cornerRadius":3,"padding":4,"labelFont":"DejaVu Sans Condensed","labelFontSize":18,"symbolType":"stroke","symbolSize":1100,"symbolStrokeWidth":2.6,"columnPadding":34}}}},
{"data":{"name":"li"},"mark":{"type":"line","strokeWidth":2.6},"encoding":{"x":{"field":"t","type":"quantitative"},"y":{"field":"f","type":"quantitative","scale":{"type":"log","domain":[2e-14,2.95e-11]},"axis":{"orient":"left","values":[1e-11,1e-12,1e-13,2e-11,9e-12,8e-12,7e-12,6e-12,5e-12,4e-12,3e-12,2e-12,9e-13,8e-13,7e-13,6e-13,5e-13,4e-13,3e-13,2e-13,9e-14,8e-14,7e-14,6e-14,5e-14,4e-14,3e-14,2e-14],"labelExpr":"datum.value==1e-11?'10⁻¹¹':datum.value==1e-12?'10⁻¹²':datum.value==1e-13?'10⁻¹³':''","tickSize":{"condition":{"test":"datum.value==1e-11||datum.value==1e-12||datum.value==1e-13","value":6},"value":3},"labelPadding":6,"title":"Surface Mass Fraction","titleX":-66}},"color":{"field":"s","type":"nominal"}}},
{"data":{"values":[{"t":0.00061,"s":"t − t"}]},"mark":{"type":"text","fontStyle":"italic"},"encoding":{"x":{"field":"t","type":"quantitative"},"y":{"value":189},"text":{"field":"s"}}},
{"data":{"values":[{"t":0.0046,"s":"flash"}]},"mark":{"type":"text","fontSize":13},"encoding":{"x":{"field":"t","type":"quantitative"},"y":{"value":192},"text":{"field":"s"}}},
{"data":{"values":[{"t":0.024,"s":"/yr"}]},"mark":{"type":"text"},"encoding":{"x":{"field":"t","type":"quantitative"},"y":{"value":189},"text":{"field":"s"}}}
]}
]}
